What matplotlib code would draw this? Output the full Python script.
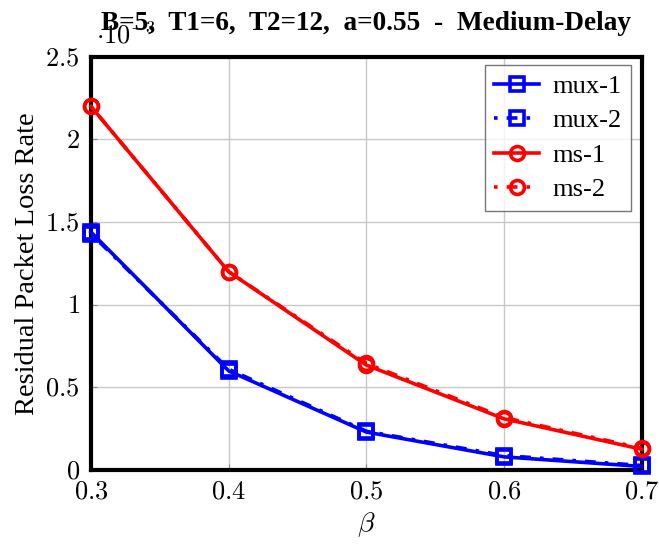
import matplotlib.pyplot as plt
from matplotlib.ticker import FixedLocator, FixedFormatter

plt.rcParams['mathtext.fontset'] = 'cm'
plt.rcParams['font.family'] = ['Liberation Serif', 'DejaVu Serif']

# данные (значения в единицах 1e-3)
beta = [0.3, 0.4, 0.5, 0.6, 0.7]
mux_1 = [1.44, 0.60, 0.23, 0.080, 0.022]
mux_2 = [1.43, 0.61, 0.235, 0.088, 0.028]
ms_1 = [2.20, 1.20, 0.635, 0.31, 0.126]
ms_2 = [2.20, 1.20, 0.645, 0.318, 0.132]

y_ticks = [0, 0.5, 1, 1.5, 2, 2.5]
y_labels = ['0', '0.5', '1', '1.5', '2', '2.5']
x_ticks = [0.3, 0.4, 0.5, 0.6, 0.7]

fig = plt.figure(figsize=(6.59, 5.46), dpi=100)
ax = fig.add_axes([0.138, 0.139, 0.836, 0.757])

dashdot = (0, (1, 2.5, 3, 2.5))
ax.plot(beta, mux_1, color='blue', lw=2.6, marker='s', ms=10, mfc='none', mew=2.6, label='mux-1', clip_on=False, zorder=4)
ax.plot(beta, mux_2, color='blue', lw=2.6, ls=dashdot, marker='s', ms=10, mfc='none', mew=2.6, label='mux-2', clip_on=False, zorder=3)
ax.plot(beta, ms_1, color='red', lw=2.6, marker='o', ms=10, mfc='none', mew=2.6, label='ms-1', clip_on=False, zorder=4)
ax.plot(beta, ms_2, color='red', lw=2.6, ls=dashdot, marker='o', ms=10, mfc='none', mew=2.6, label='ms-2', clip_on=False, zorder=3)

ax.set_xlim(0.3, 0.7)
ax.set_ylim(0, 2.5)
ax.xaxis.set_major_locator(FixedLocator(x_ticks))
ax.xaxis.set_major_formatter(FixedFormatter([f'${v:.1f}$' for v in x_ticks]))
ax.yaxis.set_major_locator(FixedLocator(y_ticks))
ax.yaxis.set_major_formatter(FixedFormatter([f'${v}$' for v in y_labels]))
ax.tick_params(direction='in', length=4, width=0.8, color='#888888', labelsize=19, pad=8)
ax.grid(True, color='#c8c8c8', lw=1)
for s in ax.spines.values():
    s.set_linewidth(3)

ax.set_xlabel(r'$\beta$', fontsize=20, labelpad=5)
ax.set_ylabel('Residual Packet Loss Rate', fontsize=20.5, labelpad=4)
ax.set_title('B=5,  T1=6,  T2=12,  a=0.55  -  Medium-Delay', fontsize=19.6, fontweight='bold', pad=19)
ax.text(0.01, 1.02, r'$\cdot10^{-3}$', transform=ax.transAxes, fontsize=19, ha='left', va='bottom')

leg = ax.legend(loc='upper right', fontsize=19, frameon=True, fancybox=False, edgecolor='#555555',
                handlelength=1.7, borderpad=0.35, labelspacing=0.42, handletextpad=0.5,
                borderaxespad=0, bbox_to_anchor=(0.98, 0.98))
leg.get_frame().set_linewidth(1)

fig.savefig('out.png', dpi=100)
